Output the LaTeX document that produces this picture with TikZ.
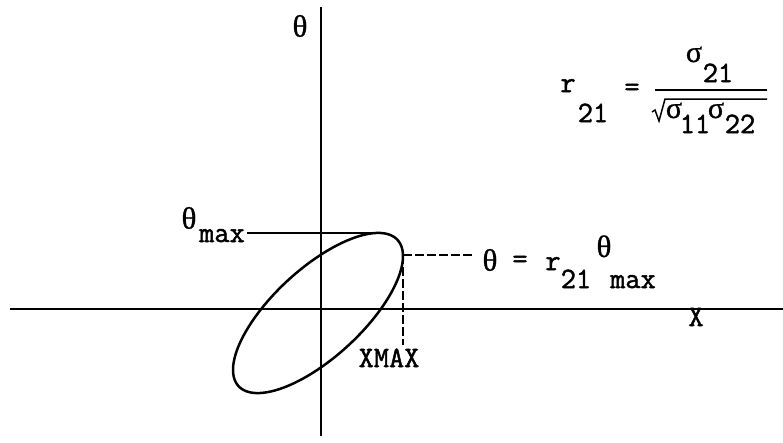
\documentclass[tikz,border=0pt]{standalone}
\usepackage{fontspec}
\newfontfamily\twfont{Latin Modern Mono}[FakeBold=1.7]
\newfontfamily\gkfont{Liberation Serif}[FakeBold=0.9]
\newcommand{\mytheta}{{\gkfont\fontsize{31}{34}\selectfont θ}}
\newcommand{\mysigma}{{\gkfont\fontsize{30}{34}\selectfont σ}}
\begin{document}
\begin{tikzpicture}[x=1pt,y=-1pt,
  txt/.style={inner sep=0pt, font=\twfont\fontsize{29.5}{33}\selectfont},
  axisline/.style={line width=2.7pt},
  curveline/.style={line width=2.5pt},
  guideline/.style={line width=1.6pt},
  dashguide/.style={line width=1.6pt, dash pattern=on 9pt off 3pt},
  radline/.style={line width=1.5pt, line join=miter}]
\useasboundingbox (0,0) rectangle (783,442);
% axes
\coordinate (yt) at (321,7);
\coordinate (yb) at (321,436);
\coordinate (xl) at (10,309);
\coordinate (xr) at (783,309);
\draw[axisline] (yb) -- (yt);
\draw[axisline, line width=2.2pt] (xl) -- (xr);
% ellipse
\draw[curveline] plot[domain=0:360, samples=150, smooth cycle]
  ({318+108*cos(\x)*0.7361-44.4*sin(\x)*0.6769},{313-108*cos(\x)*0.6769-44.4*sin(\x)*0.7361});
\coordinate (topp) at (384,233);
\coordinate (xmaxp) at (403,255);
\coordinate (dashend) at (473,255);
\coordinate (vdashend) at (403,345);
% axis labels
\node[txt] (thtop) at (300,26) {\mytheta};
\node[txt, anchor=base] (xlab) at (696,326) {X};
% theta max
\node[txt] (thmax) at (189,218) {\mytheta};
\node[txt, anchor=base] (maxlab) at (222,242) {max};
\draw[guideline] ([xshift=2pt]maxlab.east |- topp) -- (topp);
% xmax
\draw[dashguide] (xmaxp) -- (dashend);
\draw[dashguide] (xmaxp) -- (vdashend);
\node[txt, anchor=base] (xmaxlab) at (389,367) {XMAX};
% theta = r21 theta max
\node[txt] (th1) at (490,260) {\mytheta};
\node[txt, anchor=base] (eq1) at (520,268) {=};
\node[txt, anchor=base] (r1) at (553,270) {r};
\node[txt, anchor=base] (r1sub) at (576,288) {21};
\node[txt, anchor=base] (th2) at (604,257) {\mytheta};
\node[txt, anchor=base] (th2sub) at (633,288) {max};
% formula
\node[txt, anchor=base] (r2) at (568,92) {r};
\node[txt, anchor=base] (r2sub) at (593,122) {21};
\node[txt, anchor=base] (eq2) at (632,96) {=};
\coordinate (fbl) at (655,90);
\coordinate (fbr) at (767,90);
\draw[guideline] (fbl) -- (fbr);
\node[txt, anchor=base] (sn) at (694,62) {\mysigma};
\node[txt, anchor=base] (snsub) at (718,82) {21};
\coordinate (ra) at (652,112);
\coordinate (rb) at (655,110);
\coordinate (rc) at (659,121);
\coordinate (rd) at (665,99);
\coordinate (re) at (767,99);
\draw[radline] (ra) -- (rb) -- (rc) -- (rd) -- (re);
\node[txt, anchor=base] (sa) at (674,118) {\mysigma};
\node[txt, anchor=base] (sasub) at (695,133) {11};
\node[txt, anchor=base] (sb) at (716,118) {\mysigma};
\node[txt, anchor=base] (sbsub) at (740,133) {22};
\end{tikzpicture}
\end{document}
